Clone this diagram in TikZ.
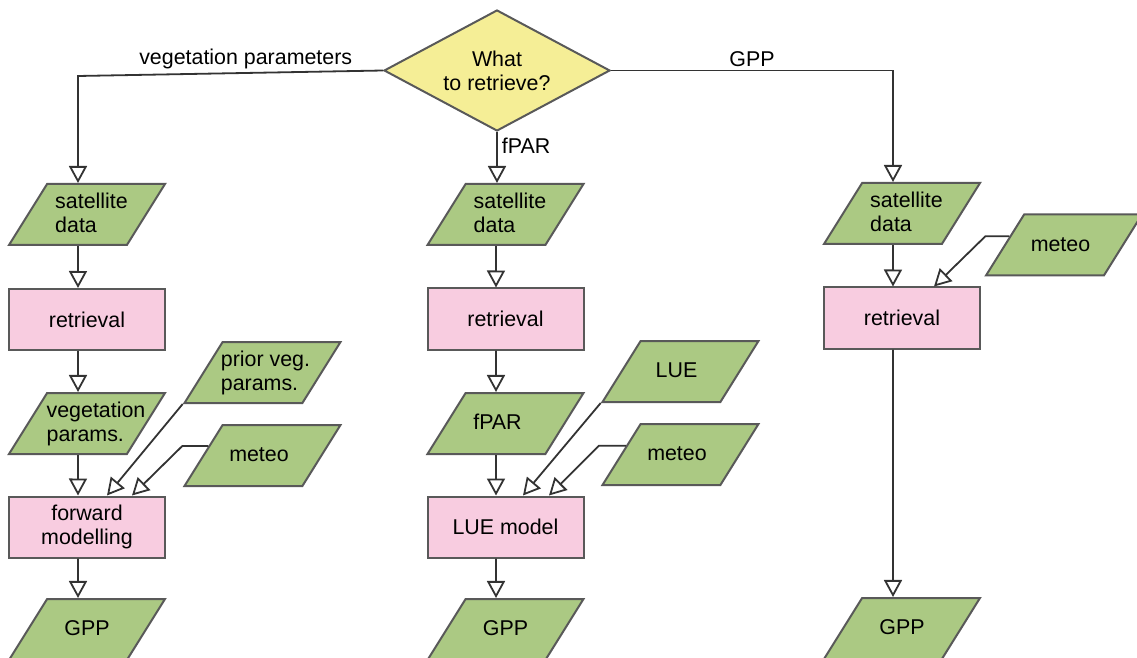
\documentclass[tikz,border=0pt]{standalone}
\usepackage{fontspec}
\setmainfont{Liberation Sans}
\usetikzlibrary{shapes.geometric,arrows.meta}
\definecolor{datagreen}{RGB}{171,201,131}
\definecolor{procpink}{RGB}{248,204,224}
\definecolor{decyellow}{RGB}{245,238,150}
\definecolor{bordergray}{RGB}{89,89,89}
\definecolor{linegray}{RGB}{51,51,51}
% text block of a data node, optional left pad moves it sideways
\newcommand{\dlines}[2][0pt]{\begin{tabular}{@{\hspace{#1}}l@{}}#2\end{tabular}}
\begin{document}
\begin{tikzpicture}[x=0.5pt, y=-0.5pt,
        font=\fontsize{10.7}{12}\selectfont,
        data/.style={line width=1pt, shape=trapezium, trapezium left angle=58, trapezium right angle=122,
            trapezium stretches body, draw=bordergray, fill=datagreen,
            minimum width=78pt, inner xsep=-10pt, inner ysep=0pt, text height=18.8pt, text depth=11.7pt},
        proc/.style={line width=1pt, shape=rectangle, draw=bordergray, fill=procpink,
            minimum width=78pt, minimum height=30.5pt, inner sep=0pt, align=center},
        decision/.style={line width=1pt, shape=diamond, aspect=1.87, draw=bordergray, fill=decyellow,
            minimum width=113pt, minimum height=60.5pt, inner sep=0pt, align=center},
        flow/.style={line width=0.9pt, draw=linegray, -{Triangle[open, length=8.5pt, width=9pt]}}]
    \useasboundingbox (0,0) rectangle (1137,658);

    \node[decision] (what) at (497,70.5) {What\\to retrieve?};

    % vegetation parameters branch
    \node[data] (sat1)   at (87,214.5)   {\dlines[4.5pt]{satellite\\data}};
    \node[proc] (ret1)   at (87,319.5)   {retrieval};
    \node[data] (veg1)   at (87,423.5)   {\dlines[9pt]{vegetation\\params.}};
    \node[data] (prior1) at (262.5,372.5) {\dlines[3pt]{prior veg.\\params.}};
    \node[data] (met1)   at (262.5,455.5) {\dlines[-3.5pt]{meteo}};
    \node[proc] (fwd1)   at (87,527)     {forward\\modelling};
    \node[data] (gpp1)   at (87,629.5)   {\dlines{GPP}};

    % fPAR branch
    \node[data] (sat2) at (505.5,214.5) {\dlines[4.5pt]{satellite\\data}};
    \node[proc] (ret2) at (505.5,319)   {retrieval};
    \node[data] (fpar2) at (505.5,423.5) {\dlines[-8pt]{fPAR}};
    \node[data] (lue2) at (680.5,371.5) {\dlines[-4pt]{LUE}};
    \node[data] (met2) at (680.5,454.5) {\dlines[-3.5pt]{meteo}};
    \node[proc] (mod2) at (505.5,527)   {LUE model};
    \node[data] (gpp2) at (505.5,629.5) {\dlines{GPP}};

    % GPP branch
    \node[data] (sat3) at (902,213.5)  {\dlines[4.5pt]{satellite\\data}};
    \node[data] (met3) at (1064,245)   {\dlines[-3.5pt]{meteo}};
    \node[proc] (ret3) at (902,318)    {retrieval};
    \node[data] (gpp3) at (902,628.5)  {\dlines{GPP}};

    \coordinate (cl) at (78,76);
    \coordinate (cr) at (893,70.5);

    \draw[flow] (what.west) -- node[above, pos=0.45, inner sep=1.5pt] {vegetation parameters} (cl) -- (cl |- sat1.north);
    \draw[flow] (what.south) -- node[right, pos=0.27, inner sep=2pt] {fPAR} (what.south |- sat2.north);
    \draw[flow] (what.east) -- node[above, midway, inner sep=1.5pt] {GPP} (cr) -- (cr |- sat3.north);

    \draw[flow] ([xshift=-4.5pt]sat1.south) -- ([xshift=-4.5pt]ret1.north);
    \draw[flow] ([xshift=-4.5pt]ret1.south) -- ([xshift=-4.5pt]veg1.north);
    \draw[flow] ([xshift=-4.5pt]veg1.south) -- ([xshift=-4.5pt]fwd1.north);
    \draw[flow] ([xshift=-4.5pt]fwd1.south) -- ([xshift=-4.5pt]gpp1.north);
    \draw[flow] (prior1.bottom left corner) -- ([xshift=10pt]fwd1.north);
    \draw[flow] (met1.170) -- ++(-13pt,0) -- ([xshift=22.5pt]fwd1.north);

    \draw[flow] ([xshift=-4.75pt]sat2.south) -- ([xshift=-4.75pt]ret2.north);
    \draw[flow] ([xshift=-4.75pt]ret2.south) -- ([xshift=-4.75pt]fpar2.north);
    \draw[flow] ([xshift=-4.75pt]fpar2.south) -- ([xshift=-4.75pt]mod2.north);
    \draw[flow] ([xshift=-4.75pt]mod2.south) -- ([xshift=-4.75pt]gpp2.north);
    \draw[flow] (lue2.bottom left corner) -- ([xshift=8.75pt]mod2.north);
    \draw[flow] (met2.171) -- ++(-13.5pt,0) -- ([xshift=21.75pt]mod2.north);

    \draw[flow] ([xshift=-4.5pt]sat3.south) -- ([xshift=-4.5pt]ret3.north);
    \draw[flow] ([xshift=-4.5pt]ret3.south) -- ([xshift=-4.5pt]gpp3.north);
    \draw[flow] (met3.171) -- ++(-12pt,0) -- ([xshift=16pt]ret3.north);
\end{tikzpicture}
\end{document}
